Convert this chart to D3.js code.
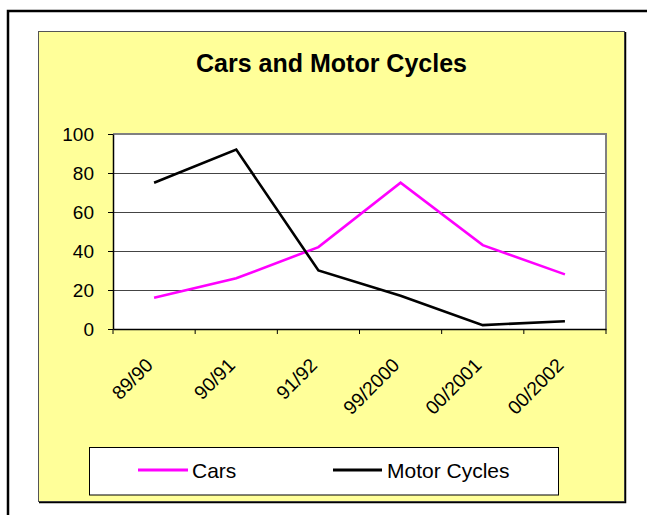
<!DOCTYPE html>
<html>
<head>
<meta charset="utf-8">
<script src="https://cdn.jsdelivr.net/npm/d3@7"></script>
<style>
  html, body { margin: 0; padding: 0; background: #fff; }
  svg { display: block; font-family: "Liberation Sans", Arial, sans-serif; }
</style>
</head>
<body>
<svg id="chart" width="647" height="515"></svg>
<script>
// Yearly figures for cars and motor cycles
const categories = ["89/90", "90/91", "91/92", "99/2000", "00/2001", "00/2002"];
const cars = [16, 26, 42, 75, 43, 28];
const motorCycles = [75, 92, 30, 17, 2, 4];
const yTicks = [0, 20, 40, 60, 80, 100];
const seriesNames = ["Cars", "Motor Cycles"];
const seriesColors = ["#FF00FF", "#000000"];

const svg = d3.select("#chart");

// outer frame (runs off the right and bottom edges)
svg.append("rect")
  .attr("x", 8).attr("y", 11).attr("width", 680).attr("height", 540)
  .attr("fill", "#fff").attr("stroke", "#000").attr("stroke-width", 2.5);

// chart panel with a dark shadow edge on the right and bottom
svg.append("rect")
  .attr("x", 38.5).attr("y", 31.5).attr("width", 586).attr("height", 470)
  .attr("fill", "#FFFF99").attr("stroke", "#555").attr("stroke-width", 1);
svg.append("path")
  .attr("d", "M625.5,32 V502.5 H39")
  .attr("fill", "none").attr("stroke", "#000").attr("stroke-width", 1.5);

// title
svg.append("text")
  .attr("x", 331.5).attr("y", 72)
  .attr("text-anchor", "middle")
  .attr("font-weight", "bold").attr("font-size", 25)
  .text("Cars and Motor Cycles");

// plot area
const plot = { left: 113, right: 606, top: 134, bottom: 329 };

const x = d3.scaleBand().domain(categories).range([plot.left, plot.right]).paddingInner(0).paddingOuter(0);
const y = d3.scaleLinear().domain([0, 100]).range([plot.bottom, plot.top]);

svg.append("rect")
  .attr("x", plot.left).attr("y", plot.top)
  .attr("width", plot.right - plot.left).attr("height", plot.bottom - plot.top)
  .attr("fill", "#fff");

// horizontal gridlines
svg.append("g")
  .selectAll("line")
  .data(yTicks.filter(d => d > 0 && d < 100))
  .join("line")
  .attr("x1", plot.left).attr("x2", plot.right)
  .attr("y1", d => Math.round(y(d)) + 0.5).attr("y2", d => Math.round(y(d)) + 0.5)
  .attr("stroke", "#444").attr("stroke-width", 1);

// plot border: grey top and right
svg.append("path")
  .attr("d", `M${plot.left},${plot.top} H${plot.right} V${plot.bottom}`)
  .attr("fill", "none").attr("stroke", "#808080").attr("stroke-width", 2);

// y axis
const yAxis = svg.append("g")
  .attr("transform", `translate(${plot.left},0)`)
  .call(d3.axisLeft(y).tickValues(yTicks).tickSize(5).tickSizeOuter(0).tickPadding(14));
yAxis.select(".domain").attr("stroke", "#000").attr("stroke-width", 1.5);
yAxis.selectAll(".tick line").attr("stroke", "#000");
yAxis.selectAll(".tick text")
  .attr("font-family", "Liberation Sans, Arial, sans-serif")
  .attr("font-size", 19).attr("fill", "#000");

// x axis: labels at category centres, ticks at category boundaries
const xAxis = svg.append("g")
  .attr("transform", `translate(0,${plot.bottom})`)
  .call(d3.axisBottom(x).tickSize(0).tickSizeOuter(0));
xAxis.select(".domain").attr("stroke", "#000").attr("stroke-width", 1.5);
xAxis.selectAll(".tick text")
  .attr("font-family", "Liberation Sans, Arial, sans-serif")
  .attr("font-size", 19.3).attr("fill", "#000")
  .attr("y", 0).attr("dy", 0)
  .attr("text-anchor", "end")
  .attr("transform", "translate(0,37.5) rotate(-45)");

const boundaries = categories.map(c => x(c)).concat([x.range()[1]]);
xAxis.append("g")
  .selectAll("line")
  .data(boundaries)
  .join("line")
  .attr("x1", d => d).attr("x2", d => d)
  .attr("y1", 0).attr("y2", 5)
  .attr("stroke", "#000").attr("stroke-width", 1);

// series lines
const line = d3.line()
  .x((d, i) => x(categories[i]) + x.bandwidth() / 2)
  .y(d => y(d));

[cars, motorCycles].forEach((vals, i) => {
  svg.append("path")
    .datum(vals)
    .attr("d", line)
    .attr("fill", "none")
    .attr("stroke", seriesColors[i])
    .attr("stroke-width", 2.6)
    .attr("stroke-linejoin", "miter");
});

// legend
const legend = svg.append("g");
legend.append("rect")
  .attr("x", 89.5).attr("y", 447.5).attr("width", 469).attr("height", 47.5)
  .attr("fill", "#fff").attr("stroke", "#000").attr("stroke-width", 1);

const legendItems = [
  { x1: 138, x2: 188, tx: 192 },
  { x1: 333, x2: 382, tx: 387 }
];
legendItems.forEach((it, i) => {
  legend.append("line")
    .attr("x1", it.x1).attr("x2", it.x2)
    .attr("y1", 470).attr("y2", 470)
    .attr("stroke", seriesColors[i]).attr("stroke-width", 3);
  legend.append("text")
    .attr("x", it.tx).attr("y", 477.5)
    .attr("font-size", 21).attr("fill", "#000")
    .text(seriesNames[i]);
});
</script>
</body>
</html>
